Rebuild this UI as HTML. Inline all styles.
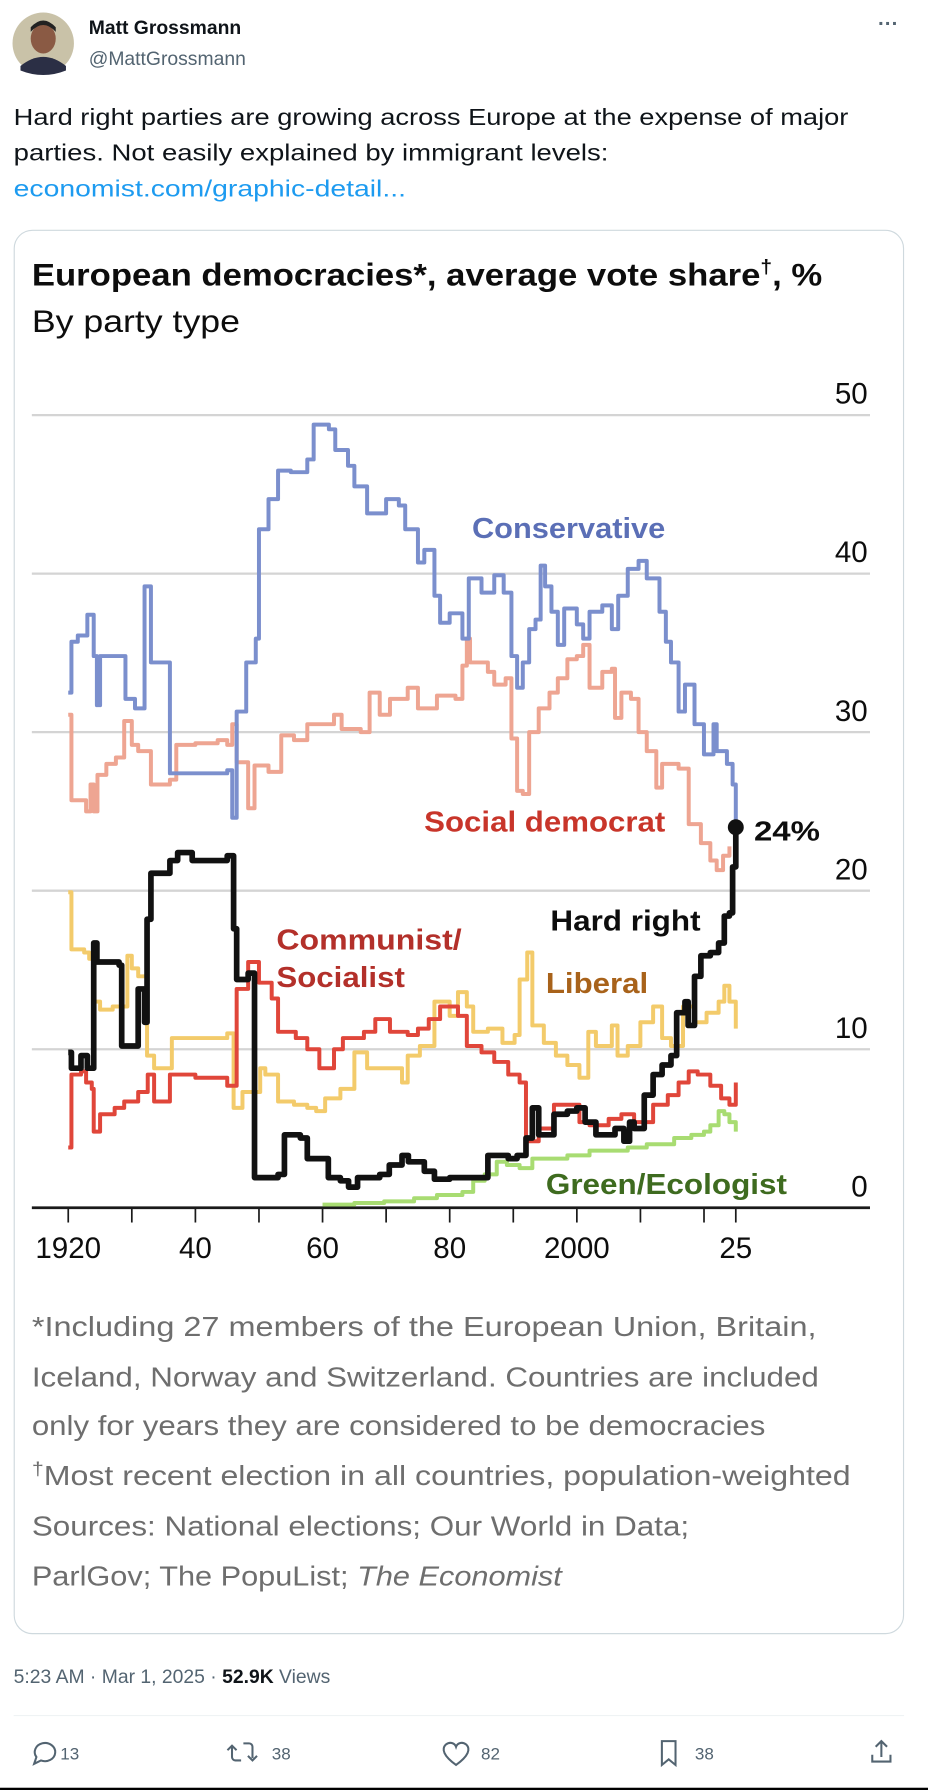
<!DOCTYPE html>
<html><head><meta charset="utf-8"><style>
html,body{margin:0;padding:0;background:#fff;}
svg{display:block;}
text{font-family:"Liberation Sans",sans-serif;}
</style></head><body>
<svg id="page" width="928" height="1790" viewBox="0 0 816 1574" xmlns="http://www.w3.org/2000/svg">
<rect x="0" y="0" width="816" height="1574" fill="#fff"/>
<g>
<circle cx="38" cy="38" r="27" fill="#c9c2a8"/>
<ellipse cx="38" cy="34" rx="11" ry="13" fill="#8a5a44"/>
<path d="M18,58 Q38,42 58,58 L58,62 Q38,70 18,62Z" fill="#2b2f45"/>
<path d="M27,28 Q38,16 49,28 L49,24 Q38,12 27,24Z" fill="#222"/>
</g>
<text x="78" y="30" font-size="17" font-weight="bold" fill="#0f1419">Matt Grossmann</text>
<text x="78" y="57" font-size="17" fill="#536471">@MattGrossmann</text>
<text x="772" y="27" font-size="18" fill="#536471" font-weight="bold">···</text>
<text x="12" y="110" font-size="20" fill="#0f1419" textLength="734" lengthAdjust="spacingAndGlyphs">Hard right parties are growing across Europe at the expense of major</text>
<text x="12" y="141" font-size="20" fill="#0f1419" textLength="523" lengthAdjust="spacingAndGlyphs">parties. Not easily explained by immigrant levels:</text>
<text x="12" y="173" font-size="20" fill="#1d9bf0" textLength="345" lengthAdjust="spacingAndGlyphs">economist.com/graphic-detail...</text>

<rect x="12.5" y="202.5" width="782" height="1234" rx="16" fill="#fff" stroke="#cfd9de"/>
<text x="28" y="251" font-size="28" font-weight="bold" fill="#0d0d0d" textLength="695" lengthAdjust="spacingAndGlyphs">European democracies*, average vote share<tspan font-size="17" dy="-11">†</tspan><tspan dy="11">, %</tspan></text>
<text x="28" y="292" font-size="28" fill="#0d0d0d" textLength="183" lengthAdjust="spacingAndGlyphs">By party type</text>

<g id="grid"></g>
<g id="series"></g>
<g id="xaxis"></g>

<text x="415" y="473" font-size="25" font-weight="bold" fill="#5b6fb6" textLength="170" lengthAdjust="spacingAndGlyphs">Conservative</text>
<text x="373" y="731" font-size="25" font-weight="bold" fill="#c8352a" textLength="212" lengthAdjust="spacingAndGlyphs">Social democrat</text>
<text x="663" y="739" font-size="24" font-weight="bold" fill="#0d0d0d" textLength="58" lengthAdjust="spacingAndGlyphs">24%</text>
<text x="243" y="835" font-size="25" font-weight="bold" fill="#b3302a" textLength="163" lengthAdjust="spacingAndGlyphs">Communist/</text>
<text x="243" y="868" font-size="25" font-weight="bold" fill="#b3302a" textLength="113" lengthAdjust="spacingAndGlyphs">Socialist</text>
<text x="484" y="818" font-size="25" font-weight="bold" fill="#0d0d0d" textLength="132" lengthAdjust="spacingAndGlyphs">Hard right</text>
<text x="480" y="873" font-size="25" font-weight="bold" fill="#a8621a" textLength="90" lengthAdjust="spacingAndGlyphs">Liberal</text>
<text x="480" y="1050" font-size="25" font-weight="bold" fill="#3e6b1f" textLength="212" lengthAdjust="spacingAndGlyphs">Green/Ecologist</text>

<g font-size="24" fill="#6e6e6e">
<text x="28" y="1175" textLength="690" lengthAdjust="spacingAndGlyphs">*Including 27 members of the European Union, Britain,</text>
<text x="28" y="1219" textLength="692" lengthAdjust="spacingAndGlyphs">Iceland, Norway and Switzerland. Countries are included</text>
<text x="28" y="1262" textLength="645" lengthAdjust="spacingAndGlyphs">only for years they are considered to be democracies</text>
<text x="28" y="1306" textLength="720" lengthAdjust="spacingAndGlyphs"><tspan font-size="16" dy="-9">†</tspan><tspan dy="9">Most recent election in all countries, population-weighted</tspan></text>
<text x="28" y="1350" textLength="578" lengthAdjust="spacingAndGlyphs">Sources: National elections; Our World in Data;</text>
<text x="28" y="1394" textLength="466" lengthAdjust="spacingAndGlyphs">ParlGov; The PopuList; <tspan font-style="italic">The Economist</tspan></text>
</g>

<text x="12" y="1480" font-size="17" fill="#536471">5:23 AM · Mar 1, 2025 · <tspan font-weight="bold" fill="#0f1419">52.9K</tspan> Views</text>
<line x1="12" y1="1508.5" x2="795" y2="1508.5" stroke="#eff3f4" stroke-width="1"/>
<g stroke="#536471" stroke-width="1.8" fill="none">
<g><path d="M30,1551 L32,1545 A9,8 0 1 1 36,1548 Z"/></g>
<g><path d="M204,1535 v10 a3,3 0 0 0 3,3 h5 M200,1539 l4,-4 4,4 M214,1533 h5 a3,3 0 0 1 3,3 v10 M218,1544 l4,4 4,-4"/></g>
<g><path d="M401,1552 C390,1544 388,1538 392,1534 C396,1531 400,1533 401,1536 C402,1533 406,1531 410,1534 C414,1538 412,1544 401,1552Z"/></g>
<g><path d="M582,1531 h12 v21 l-6,-5 -6,5Z"/></g>
<g><path d="M775,1531 v14 M770,1536 l5,-5 5,5 M767,1543 v6 h16 v-6"/></g>
</g>
<g font-size="15" fill="#536471">
<text x="53" y="1547">13</text>
<text x="239" y="1547">38</text>
<text x="423" y="1547">82</text>
<text x="611" y="1547">38</text>
</g>
<rect x="0" y="1572" width="816" height="2" fill="#000"/>
</svg>
<script>
// ----- chart data -----
const yTicks = [0, 10, 20, 30, 40, 50];
const xTickYears = [1920,1930,1940,1950,1960,1970,1980,1990,2000,2010,2020,2025];
const xLabelYears = [1920,1940,1960,1980,2000,2025];
const xLabelText = ["1920","40","60","80","2000","25"];

const consYears = [1920,1920.5,1921.5,1923,1924,1924.5,1925,1929,1930.5,1932,1933,1936,1945,1945.8,1946.5,1948,1949.5,1950,1951.5,1953,1955,1957.6,1958.6,1961,1962,1964,1965,1967,1970,1972,1973,1975,1976,1977.6,1978.5,1980,1982,1983,1985,1987,1988.5,1989.7,1990.6,1991.5,1992.5,1993.5,1994.3,1995,1996,1997,1998,2000,2001,2002,2004,2005.5,2006.5,2008,2009.7,2011,2013,2014,2014.8,2016,2017,2018.5,2020,2021.5,2022,2023.6,2024.5,2025];
const consVals  = [32.5,35.7,36.1,37.4,34.8,31.7,34.8,32.1,31.5,39.2,34.4,27.4,27.6,24.6,31.3,34.4,35.9,42.8,44.7,46.5,46.4,47.2,49.4,49.1,47.8,46.8,45.5,43.8,44.7,44.3,42.8,40.7,41.5,38.6,36.9,37.5,35.9,39.7,38.8,39.9,38.8,34.8,32.8,34.4,36.5,37.1,40.5,39.2,37.6,35.5,37.8,36.8,35.9,37.6,38,36.5,38.6,40.3,40.8,39.7,37.6,35.7,34.4,31.3,33,30.5,28.6,30.5,28.8,28,26.7,24.2];

const sdYears = [1920,1920.5,1922.8,1923.5,1924,1924.6,1926,1927.5,1928.8,1930,1931,1933,1936,1937,1940,1943.5,1945,1945.8,1946.5,1948.3,1949.3,1951.5,1953.5,1955.5,1957.6,1961.8,1963,1966,1967.4,1969,1970.6,1973.4,1975,1978,1980.9,1982,1982.7,1983.2,1986,1987,1988.8,1989.7,1990.6,1991.5,1992.5,1994,1995.7,1997,1998.5,2000,2001,2002,2004,2005.5,2006,2007,2008.5,2009.7,2011,2012.5,2013.4,2015,2016,2017.6,2019.5,2021,2022,2023,2024];
const sdVals  = [31.1,25.7,25,26.7,25,27.3,28,28.4,30.7,29.2,28.8,26.7,27,29.2,29.3,29.5,29.2,30.5,28.1,25.2,27.9,27.5,29.8,29.5,30.5,31.1,30.2,30,32.5,31.1,32.1,32.8,31.5,32.3,32.1,34.2,35.9,34.4,33.8,33,33.4,29.6,26.3,26.1,30,31.5,32.5,33.4,34.6,34.8,35.5,32.8,33.8,34,30.9,32.5,32.1,30,28.8,26.5,28,28,27.7,24.2,23,21.9,21.3,22.2,22.8];

const hrYears = [1920,1920.5,1922,1923,1924,1924.5,1928,1928.4,1931,1932,1932.4,1933,1936,1937.2,1939.5,1945,1946,1946.5,1948.3,1949.3,1953,1954,1956.5,1957.6,1960.9,1962.8,1964.1,1965.5,1969,1970.5,1972.5,1973.5,1976,1977.6,1980,1986,1989.2,1990.6,1992,1993,1994,1996.4,1998.5,2000,2001.3,2003,2006,2007.4,2008.3,2009,2010.6,2012,2013.4,2014.8,2015.7,2017,2017.5,2018.5,2019.5,2021,2022.3,2023.2,2024,2024.5,2025];
const hrVals  = [9.8,8.8,9.6,8.8,16.7,15.5,15.3,10.2,13.8,11.7,18.2,21.1,21.9,22.4,21.9,22.2,17.6,14.4,14.8,1.9,2.1,4.6,4.4,3.1,1.9,1.7,1.3,1.9,2.1,2.7,3.3,2.9,2.3,1.8,1.9,3.3,3.1,3.3,4.4,6.3,4.6,5.9,6.1,6.3,5.4,4.6,5,4.2,5.4,5,7.1,8.4,9,9.6,12.3,13,11.5,14.6,15.9,16.1,16.7,18.4,18.6,21.5,23.8];

const comYears = [1920,1920.5,1922,1922.8,1923.7,1924,1925,1927.3,1928.8,1931,1932.5,1933.5,1936,1940,1945,1946.5,1948.3,1950,1952,1953,1955.8,1957.6,1959.5,1961.8,1963.2,1966.5,1968.3,1970.6,1973.4,1975,1976.7,1978.5,1981.3,1982.7,1985,1987,1989.2,1991,1992,1994,1996.4,2000.4,2002,2005,2007,2009,2012,2014.3,2016,2017.6,2019,2021,2022.7,2024,2025];
const comVals  = [3.8,8.4,8.6,7.9,7.5,4.8,5.9,6.3,6.7,7.3,8.4,6.7,8.4,8.2,7.7,13.8,15.5,14.2,13.2,11.1,10.7,10,8.8,10,10.7,11.1,11.9,11.1,10.9,11.3,11.9,12.7,12.1,10.2,9.8,9.2,8.4,7.9,4.2,5,6.5,5.4,5.2,5.6,5.9,5.4,6.5,7.1,7.9,8.6,8.4,7.7,6.9,6.5,7.9];

const libYears = [1920,1920.5,1922.5,1923.3,1924,1925,1927,1929.3,1930,1931,1932.4,1933.5,1936.3,1940,1945,1946,1947.4,1950.2,1951,1953,1955.5,1957.6,1959,1960.4,1962.8,1965,1967,1969.7,1972.5,1973.4,1975.3,1977.6,1980,1981.3,1982.7,1983.7,1986,1988.3,1990.2,1991,1992.2,1993,1994.8,1996.7,1998.5,2000.4,2001.8,2003,2005.5,2006.4,2008,2010,2012,2013.4,2014.8,2016.7,2018.5,2020.4,2022.3,2023.2,2024,2025];
const libVals  = [19.9,16.3,16.1,15.7,13,12.5,12.7,15.9,15.1,14.6,9.6,8.8,10.7,10.7,11,6.3,7.3,8.8,8.4,6.7,6.5,6.3,6.1,6.9,7.5,9.8,8.8,8.8,7.9,9.6,10.2,13,12.1,13.6,12.7,11.1,11.3,10.4,10.9,14.4,16.1,11.5,10.4,9.6,9,8.2,11.1,10.2,11.5,9.6,10.2,11.7,12.7,10.7,10.2,12.7,11.7,12.3,13,14,13,11.3];

const grnYears = [1960,1965,1969.7,1974.4,1978,1982,1983.7,1985.5,1987.4,1989,1991,1993,1996,1998.5,2002,2006,2008,2011,2013.4,2015.3,2018,2020,2021,2022.3,2023.2,2024,2025];
const grnVals  = [0.2,0.3,0.4,0.6,0.8,1.0,1.7,2.1,2.9,2.7,2.5,3.1,3.1,3.3,3.6,3.6,3.8,4.0,4.0,4.4,4.6,4.8,5.2,6.1,5.9,5.4,4.8];

const lastHardRight = 24;
// ----- scales -----
const NS = "http://www.w3.org/2000/svg";
function xScale(year){ return 60 + (year - 1920) * (587 / 105); }
function yScale(v){ return 1062 - v * 13.94; }

const grid = document.getElementById('grid');
yTicks.forEach(function(t){
  const l = document.createElementNS(NS,'line');
  l.setAttribute('x1',28); l.setAttribute('x2',765);
  l.setAttribute('y1',yScale(t)); l.setAttribute('y2',yScale(t));
  l.setAttribute('stroke', t===0 ? '#1a1a1a' : '#d4d4d4');
  l.setAttribute('stroke-width', t===0 ? 2.5 : 2);
  
  
  grid.appendChild(l);
  const tx = document.createElementNS(NS,'text');
  tx.setAttribute('x',763); tx.setAttribute('y',yScale(t)-10);
  tx.setAttribute('text-anchor','end'); tx.setAttribute('font-size','26'); tx.setAttribute('fill','#0d0d0d');
  tx.textContent = t;
  
  
  grid.appendChild(tx);
});

const xaxis = document.getElementById('xaxis');
xTickYears.forEach(function(yr){
  const l = document.createElementNS(NS,'line');
  l.setAttribute('x1',xScale(yr)); l.setAttribute('x2',xScale(yr));
  l.setAttribute('y1',1063); l.setAttribute('y2',1075);
  l.setAttribute('stroke','#1a1a1a'); l.setAttribute('stroke-width',1.5);
  
  
  xaxis.appendChild(l);
});
xLabelYears.forEach(function(yr,i){
  const tx = document.createElementNS(NS,'text');
  tx.setAttribute('x',xScale(yr)); tx.setAttribute('y',1106);
  tx.setAttribute('text-anchor','middle'); tx.setAttribute('font-size','26'); tx.setAttribute('fill','#0d0d0d');
  tx.textContent = xLabelText[i];
  
  
  xaxis.appendChild(tx);
});

function stepPath(years, vals){
  let d = 'M' + xScale(years[0]).toFixed(1) + ',' + yScale(vals[0]).toFixed(1);
  for (let i=1;i<years.length;i++){
    d += ' H' + xScale(years[i]).toFixed(1) + ' V' + yScale(vals[i]).toFixed(1);
  }
  return d;
}
const series = document.getElementById('series');
function addSeries(name, years, vals, color, w){
  const p = document.createElementNS(NS,'path');
  p.setAttribute('d', stepPath(years, vals));
  p.setAttribute('fill','none'); p.setAttribute('stroke',color);
  p.setAttribute('stroke-width',w); p.setAttribute('stroke-linejoin','round');
  
  
  series.appendChild(p);
}
addSeries('line-green', grnYears, grnVals, '#a8dc72', 3.5);
addSeries('line-liberal', libYears, libVals, '#f3cb6b', 3.5);
addSeries('line-communist', comYears, comVals, '#e0463a', 3.5);
addSeries('line-social-democrat', sdYears, sdVals, '#eea592', 3.5);
addSeries('line-conservative', consYears, consVals, '#7b8fcd', 3.5);
addSeries('line-hard-right', hrYears, hrVals, '#111111', 5);
const dot = document.createElementNS(NS,'circle');
dot.setAttribute('cx', xScale(2025)); dot.setAttribute('cy', yScale(lastHardRight)); dot.setAttribute('r', 7);
dot.setAttribute('fill','#111');


series.appendChild(dot);
</script>
</body></html>
